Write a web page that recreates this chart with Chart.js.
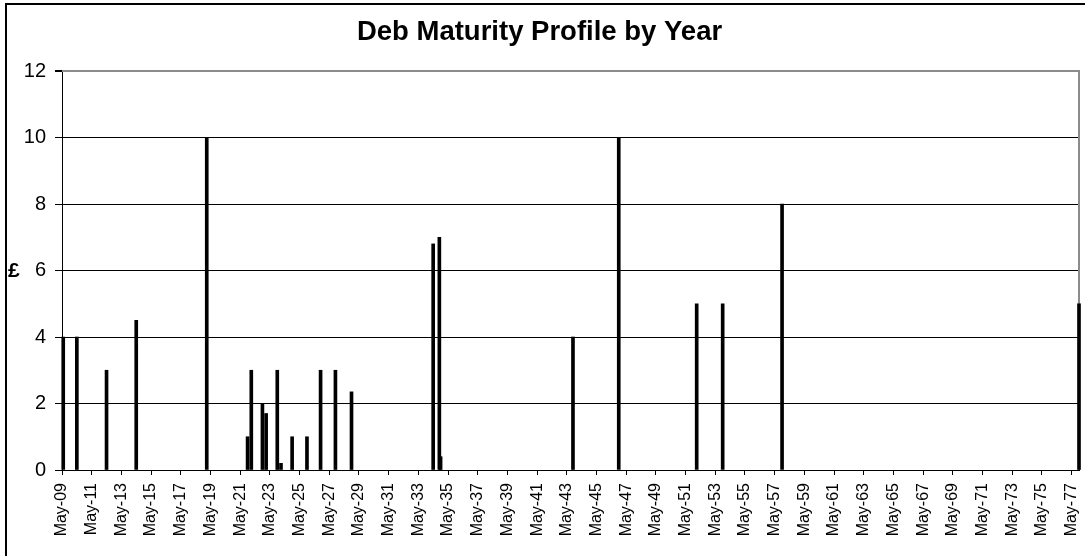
<!DOCTYPE html>
<html lang="en">
<head>
  <meta charset="UTF-8" />
  <title>Deb Maturity Profile by Year</title>
  <script src="https://cdn.jsdelivr.net/npm/chart.js"></script>
  <style>
    html, body { margin: 0; background: #fff; overflow: hidden; width: 1085px; height: 556px; }
    .frame { position: absolute; left: 5px; top: 3px; width: 1200px; height: 700px; border: 2px solid #000; }
    #chart { position: absolute; left: 0; top: 0; }
    .unit { position: absolute; left: 8px; top: 259px; font: bold 21px "Liberation Sans", Arial, sans-serif; line-height: 21px; }
  </style>
</head>
<body>
  <div class="frame"></div>
  <canvas id="chart" width="1085" height="556"></canvas>
  <div class="unit">£</div>

  <script>
    // maturity dates (yyyy-mm) and amounts
    const maturities = [
      "2009-06", "2010-05", "2012-05", "2014-05", "2019-02",
      "2021-11", "2022-02", "2022-11", "2023-02", "2023-11",
      "2024-02", "2024-11", "2025-11", "2026-10", "2027-10",
      "2028-11", "2034-05", "2034-10", "2034-11", "2043-10",
      "2046-11", "2052-02", "2053-11", "2057-11", "2077-11"
    ];
    const amounts = [
      4, 4, 3, 4.5, 10,
      1, 3, 2, 1.7, 3,
      0.2, 1, 1, 3, 3,
      2.35, 6.8, 7, 0.4, 4,
      10, 5, 5, 8, 5
    ];
    const tickLabels = [];
    for (let y = 9; y <= 77; y += 2) tickLabels.push("May-" + String(y).padStart(2, "0"));
    const yTicks = [0, 2, 4, 6, 8, 10, 12];

    const months = { Jan: 0, Feb: 1, Mar: 2, Apr: 3, May: 4, Jun: 5, Jul: 6, Aug: 7, Sep: 8, Oct: 9, Nov: 10, Dec: 11 };
    function isoToYear(s) {
      const [y, m] = s.split("-").map(Number);
      return y + (m - 1) / 12;
    }
    function labelToYear(s) {
      const [mon, yy] = s.split("-");
      return 2000 + Number(yy) + months[mon] / 12;
    }

    const points = maturities.map((d, i) => ({ x: isoToYear(d), y: amounts[i] }));
    const font = "'Liberation Sans', Arial, sans-serif";

    // gray frame on top and right of the plot area
    const plotFrame = {
      id: "plotFrame",
      beforeDatasetsDraw(chart) {
        const { ctx, chartArea: a } = chart;
        ctx.save();
        ctx.strokeStyle = "#8c8c8c";
        ctx.lineWidth = 2;
        ctx.beginPath();
        ctx.moveTo(a.left, a.top);
        ctx.lineTo(a.right, a.top);
        ctx.lineTo(a.right, a.bottom);
        ctx.stroke();
        ctx.restore();
      }
    };

    new Chart(document.getElementById("chart"), {
      type: "bar",
      data: {
        datasets: [{
          data: points,
          backgroundColor: "#000",
          borderWidth: 0,
          barThickness: 3,
          clip: 3
        }]
      },
      options: {
        responsive: false,
        animation: false,
        layout: { padding: { left: 0, right: 6, top: 0, bottom: 0 } },
        plugins: {
          legend: { display: false },
          tooltip: { enabled: false },
          title: {
            display: true,
            text: "Deb Maturity Profile by Year",
            color: "#000",
            font: { family: font, size: 27.5, weight: "bold" },
            padding: { top: 16, bottom: 22 }
          }
        },
        scales: {
          x: {
            type: "linear",
            offset: false,
            min: labelToYear(tickLabels[0]),
            max: isoToYear(maturities[maturities.length - 1]),
            afterBuildTicks(scale) {
              scale.ticks = tickLabels.map(l => ({ value: labelToYear(l) }));
            },
            afterFit(scale) {
              scale.height = 86;
              scale.paddingLeft = 0;
              scale.paddingRight = 0;
            },
            grid: { offset: false, drawOnChartArea: false, drawTicks: true, tickLength: 5, color: "#000" },
            border: { display: true, color: "#000", width: 1 },
            ticks: {
              autoSkip: false,
              minRotation: 90,
              maxRotation: 90,
              padding: 8,
              color: "#000",
              font: { family: font, size: 16 },
              callback: (v, i) => tickLabels[i]
            }
          },
          y: {
            min: yTicks[0],
            max: yTicks[yTicks.length - 1],
            afterBuildTicks(scale) {
              scale.ticks = yTicks.map(v => ({ value: v }));
            },
            afterFit(scale) {
              scale.width = 62;
              scale.paddingTop = 0;
              scale.paddingBottom = 0;
            },
            grid: {
              color: c => (c.tick && c.tick.value === 12 ? "#8c8c8c" : "#000"),
              lineWidth: c => (c.tick && c.tick.value === 12 ? 2 : 1),
              tickLength: 7,
              tickColor: "#000"
            },
            border: { display: true, color: "#000", width: 1 },
            ticks: {
              padding: 9,
              color: "#000",
              font: { family: font, size: 20 }
            }
          }
        }
      },
      plugins: [plotFrame]
    });
  </script>
</body>
</html>
